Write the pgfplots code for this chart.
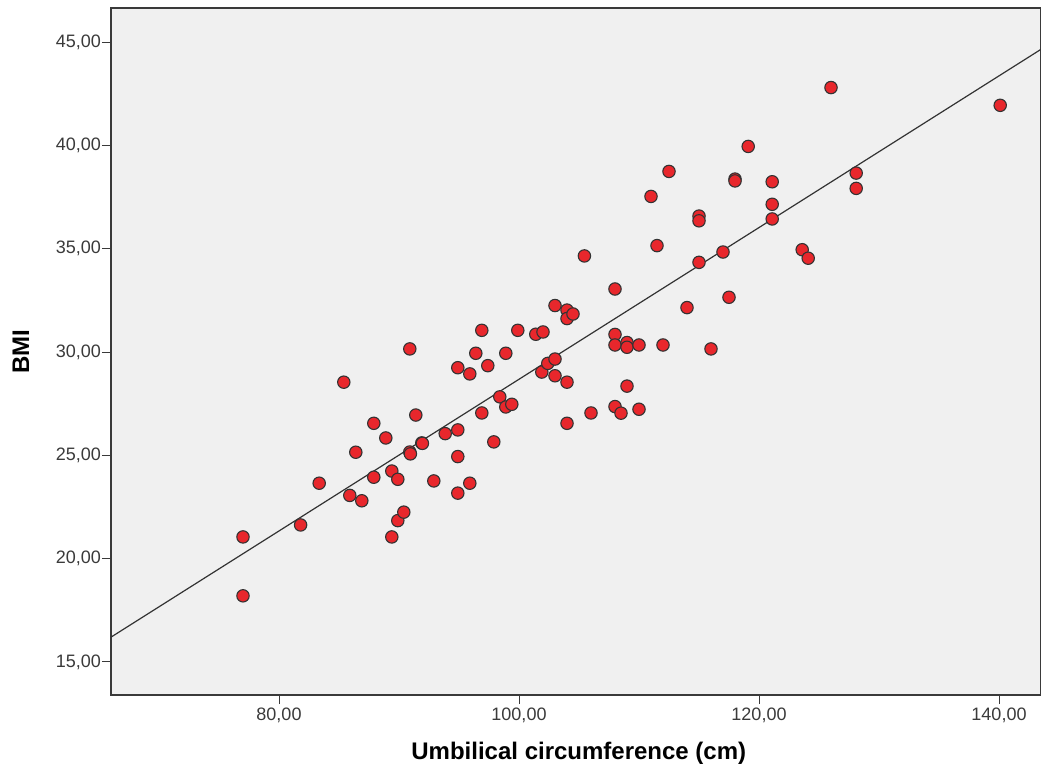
\documentclass[border=0pt]{standalone}
\usepackage{fontspec}
\setmainfont{Liberation Sans}
\usepackage{pgfplots}
\pgfplotsset{compat=1.18}
\definecolor{bg}{HTML}{F0F0F0}
\definecolor{ptred}{HTML}{E8272C}
\definecolor{axc}{HTML}{3A3A3A}
\begin{document}
\begin{tikzpicture}
\begin{axis}[
 name=ax,
 scale only axis, width=930pt, height=687pt,
 xmin=66, xmax=143.5, ymin=13.4, ymax=46.65,
 axis background/.style={fill=bg},
 axis line style={axc, line width=1.2pt},
 xtick={80,100,120,140}, ytick={15,20,25,30,35,40,45},
 tick align=outside, tick pos=left, major tick length=9pt,
 tick style={axc, line width=1pt},
 every tick label/.append style={font=\fontsize{18}{21}\selectfont, text=axc},
 yticklabel style={inner xsep=1pt},
 xticklabel style={inner ysep=4pt},
 /pgf/number format/fixed, /pgf/number format/fixed zerofill,
 /pgf/number format/precision=2, /pgf/number format/use comma,
 /pgf/number format/1000 sep={}, /pgf/number format/assume math mode=true,
 xlabel={Umbilical circumference (cm)},
 ylabel={BMI},
 xlabel style={font=\fontsize{24}{28}\selectfont\bfseries, at={(axis description cs:0.503,-0.0946)}, anchor=base},
 ylabel style={font=\fontsize{24}{28}\selectfont\bfseries, at={(axis description cs:-0.088,0.5)}, anchor=base},
]
\addplot[only marks, mark=*, mark size=6.2pt, mark options={fill=ptred, draw=black!80, line width=1.1pt}] coordinates {
(77,21.05) (77,18.2) (81.8,21.63) (83.35,23.65) (85.4,28.54) (85.9,23.06)
(86.4,25.15) (86.9,22.8) (87.9,26.55) (87.9,23.94) (88.9,25.84) (89.4,24.24)
(89.4,21.05) (89.9,23.84) (89.9,21.84) (90.4,22.25) (90.9,30.15) (90.9,25.16)
(90.95,25.07) (91.4,26.95) (91.9,25.6) (91.95,25.58) (92.9,23.76) (93.85,26.05)
(94.9,29.24) (94.9,26.23) (94.9,24.94) (94.9,23.17) (95.9,28.94) (95.9,23.65)
(96.4,29.94) (96.9,31.05) (96.9,27.05) (97.4,29.34) (97.9,25.65) (98.4,27.83)
(98.9,29.94) (98.9,27.34) (99.4,27.47) (99.9,31.05) (101.4,30.86) (102,30.97)
(101.9,29.03) (102.4,29.45) (103,29.66) (103,32.25) (103,28.85) (104,32.03)
(104,31.62) (104,28.54) (104,26.55) (104.5,31.84) (105.45,34.65) (106,27.05)
(108,33.05) (108,30.85) (108,30.34) (108,27.36) (108.5,27.04) (109,30.46)
(109,30.23) (109,28.35) (110,30.34) (110,27.23) (111,37.53) (111.5,35.15)
(112,30.34) (112.5,38.74) (114,32.15) (115,36.58) (115,36.35) (115,34.34)
(116,30.15) (117,34.84) (117.5,32.65) (118,38.37) (118,38.28) (119.1,39.95)
(121.1,38.24) (121.1,37.15) (121.1,36.44) (123.6,34.95) (124.1,34.54) (126,42.8)
(128.1,38.66) (128.1,37.92) (140.1,41.94)
};
\addplot[black!80, line width=1.2pt] coordinates {(66,16.2) (143.5,44.65)};
\end{axis}
\pgfresetboundingbox
\path[use as bounding box] ([shift={(-111pt,-76pt)}]ax.south west) rectangle ([shift={(0pt,8pt)}]ax.north east);
\end{tikzpicture}
\end{document}
